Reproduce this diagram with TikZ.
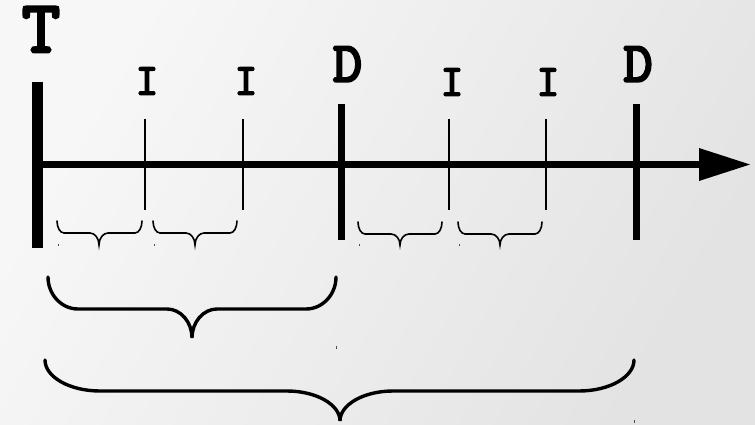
\documentclass[tikz,border=0pt]{standalone}
\usepackage{fontspec}
\newfontfamily\heavymono[FakeBold=4]{Latin Modern Mono}
\tikzset{
  lbl/.style={inner sep=0pt, anchor=base, text height=0.62em, text depth=0pt},
  axisline/.style={line width=7pt},
  bigtick/.style={line width=11pt},
  dtick/.style={line width=7pt},
  itick/.style={line width=2pt},
  smallbrace/.style={line width=1.6pt, line cap=round},
  bigbrace/.style={line width=3.4pt, line cap=round},
  speck/.style={line width=0.8pt, black!70}
}
% #1 style, #2 x1, #3 x2, #4 xm, #5 ytop, #6 ym, #7 ybot, #8 corner width, #9 middle width
\newcommand\drawbrace[9]{%
  \draw[#1] (#2,#5) .. controls (#2,{#5+0.55*(#6-#5)}) and ({#2+0.45*#8},#6) .. ({#2+#8},#6)
    -- ({#4-#9},#6) .. controls ({#4-0.45*#9},#6) and (#4,{#6+0.45*(#7-#6)}) .. (#4,#7)
    .. controls (#4,{#6+0.45*(#7-#6)}) and ({#4+0.45*#9},#6) .. ({#4+#9},#6)
    -- ({#3-#8},#6) .. controls ({#3-0.45*#8},#6) and (#3,{#5+0.55*(#6-#5)}) .. (#3,#5);}
\begin{document}
\begin{tikzpicture}[x=1pt,y=-1pt]
\shade[shading=axis, top color=white!97!black, bottom color=white!89!black, shading angle=60] (0,0) rectangle (755,425);
\useasboundingbox (0,0) rectangle (755,425);
% labels
\node[lbl, font=\heavymono\fontsize{74}{74}\selectfont] (T) at (41,52) {T};
\node[lbl, font=\heavymono\fontsize{57}{57}\selectfont] (D1) at (347.5,81.5) {D};
\node[lbl, font=\heavymono\fontsize{57}{57}\selectfont] (D2) at (638,81.5) {D};
\node[lbl, font=\heavymono\fontsize{44}{44}\selectfont] (I1) at (147,94.5) {I};
\node[lbl, font=\heavymono\fontsize{44}{44}\selectfont] (I2) at (246,94.5) {I};
\node[lbl, font=\heavymono\fontsize{44}{44}\selectfont] (I3) at (452,95.5) {I};
\node[lbl, font=\heavymono\fontsize{44}{44}\selectfont] (I4) at (548,95.5) {I};
% axis
\coordinate (start) at (37,164.5);
\coordinate (tipbase) at (700,164.5);
\coordinate (tip) at (750,164.5);
\draw[axisline] (start) -- (tipbase);
\fill (699,148) -- (tip) -- (699,181) -- cycle;
% ticks
\draw[bigtick] (37.5,82) -- (37.5,248);
\draw[dtick] (341.5,104) -- (341.5,240);
\draw[dtick] (636.5,104) -- (636.5,240);
\draw[itick] (145,119) -- (145,210);
\draw[itick] (243,119) -- (243,210);
\draw[itick] (449,119) -- (449,210);
\draw[itick] (546,119) -- (546,210);
% small braces
\drawbrace{smallbrace}{57}{142}{99}{221}{233}{245}{7}{9}
\drawbrace{smallbrace}{153}{237}{195}{221}{233}{245}{7}{9}
\drawbrace{smallbrace}{358}{442}{400}{222}{234}{245}{7}{9}
\drawbrace{smallbrace}{458}{542}{500}{222}{234}{245}{7}{9}
% big braces
\drawbrace{bigbrace}{48}{336}{192}{277}{309}{338}{30}{25}
\drawbrace{bigbrace}{45}{634}{340}{360}{391}{421}{55}{53}
% specks
\draw[speck] (58,244) -- (58,246);
\draw[speck] (154,244) -- (154,246);
\draw[speck] (359,244) -- (359,246);
\draw[speck] (459,244) -- (459,246);
\draw[speck] (336,346) -- (336,349);
\draw[speck] (634,420) -- (634,423);
\end{tikzpicture}
\end{document}
